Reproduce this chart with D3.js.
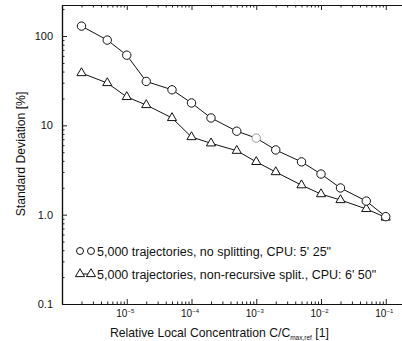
<!DOCTYPE html>
<html>
<head>
<meta charset="utf-8">
<script src="https://cdn.jsdelivr.net/npm/d3@7"></script>
<style>
  body { margin: 0; background: #fff; }
  svg { display: block; font-family: "Liberation Sans", Arial, sans-serif; }
</style>
</head>
<body>
<div id="chart"></div>
<script>
// relative local concentration C/Cmax,ref
const conc = [2e-6, 5e-6, 1e-5, 2e-5, 5e-5, 1e-4, 2e-4, 5e-4, 1e-3, 2e-3, 5e-3, 1e-2, 2e-2, 5e-2, 1e-1];
// standard deviation [%]
const noSplit = [129, 90, 61, 31, 25, 17.8, 12.1, 8.6, 7.2, 5.3, 3.9, 2.85, 1.99, 1.42, 0.95];
const nonRecursive = [38.5, 29.8, 20.8, 16.9, 12.1, 7.4, 6.3, 5.2, 3.9, 3.0, 2.14, 1.7, 1.46, 1.16, 0.93];

const yTicks = [0.1, 1, 10, 100];
const yTickLabels = ["0.1", "1.0", "10", "100"];
const xTicks = [1e-5, 1e-4, 1e-3, 1e-2, 1e-1];
const xTickExp = ["\u22125", "\u22124", "\u22123", "\u22122", "\u22121"];
const legendLabels = [
  "5,000 trajectories, no splitting, CPU: 5' 25\"",
  "5,000 trajectories, non-recursive split., CPU: 6' 50\""
];

const w = 402, h = 341;
const mLeft = 62, mTop = 5, mBottom = 304;

const svg = d3.select("#chart").append("svg")
  .attr("width", w)
  .attr("height", h);

// 10^-6 at the left edge, 64.75px per decade
const x = d3.scaleLog().domain([1e-6, 1]).range([mLeft, mLeft + 6 * 64.75]);
// 100 sits at y=36, 89.33px per decade
const y = d3.scaleLog().domain([0.1, Math.pow(10, 2 + 31 / 89.33)]).range([mBottom, mTop]);

function minors(lo, hi) {
  const out = [];
  for (let e = lo; e < hi; e++) {
    for (let k = 2; k <= 9; k++) out.push(k * Math.pow(10, e));
  }
  return out;
}

// left axis
svg.append("g")
  .attr("transform", "translate(" + mLeft + ",0)")
  .call(d3.axisLeft(y).tickValues(minors(-1, 3).filter(v => v <= y.domain()[1])).tickSize(-2.5).tickSizeOuter(0).tickFormat(""));
const yAxis = svg.append("g")
  .attr("transform", "translate(" + mLeft + ",0)")
  .call(d3.axisLeft(y).tickValues(yTicks).tickSize(-5).tickSizeOuter(0).tickPadding(9)
    .tickFormat((d, i) => yTickLabels[i]));
yAxis.selectAll("text").attr("font-size", 11).attr("fill", "#111");
yAxis.attr("font-family", null);

// bottom axis
svg.append("g")
  .attr("transform", "translate(0," + mBottom + ")")
  .call(d3.axisBottom(x).tickValues(minors(-6, 0)).tickSize(-2.5).tickSizeOuter(0).tickFormat(""));
const xAxis = svg.append("g")
  .attr("transform", "translate(0," + mBottom + ")")
  .call(d3.axisBottom(x).tickValues(xTicks).tickSize(-5).tickSizeOuter(0).tickPadding(6).tickFormat(""));
xAxis.attr("font-family", null);
xAxis.selectAll(".tick text")
  .attr("font-size", 10).attr("fill", "#111")
  .attr("dx", -2)
  .each(function(d, i) {
    const t = d3.select(this);
    t.append("tspan").text("10");
    t.append("tspan").attr("dy", -4).attr("font-size", 6).text(xTickExp[i]);
  });

// top axis
svg.append("g")
  .attr("transform", "translate(0," + mTop + ")")
  .call(d3.axisTop(x).tickValues(minors(-6, 0)).tickSize(-2.5).tickSizeOuter(0).tickFormat(""));
svg.append("g")
  .attr("transform", "translate(0," + mTop + ")")
  .call(d3.axisTop(x).tickValues(xTicks).tickSize(-5).tickSizeOuter(0).tickFormat(""));

svg.selectAll(".domain").attr("stroke", "#111").attr("stroke-width", 1.2);
svg.selectAll(".tick line").attr("stroke", "#222");

// axis titles
svg.append("text")
  .attr("transform", "translate(25,154) rotate(-90)")
  .attr("text-anchor", "middle")
  .attr("font-size", 12.2)
  .attr("fill", "#111")
  .text("Standard Deviation [%]");

const xt = svg.append("text")
  .attr("x", 110)
  .attr("y", 337)
  .attr("font-size", 12.2)
  .attr("fill", "#111");
xt.append("tspan").text("Relative Local Concentration C/C");
xt.append("tspan").attr("dy", 3).attr("font-size", 6.5).text("max,ref");
xt.append("tspan").attr("dy", -3).text(" [1]");

// series
const line = d3.line()
  .x(d => x(d[0]))
  .y(d => y(d[1]));

const circleData = conc.map((c, i) => [c, noSplit[i]]);
const triData = conc.map((c, i) => [c, nonRecursive[i]]);

svg.append("path")
  .datum(triData)
  .attr("d", line)
  .attr("fill", "none")
  .attr("stroke", "#111")
  .attr("stroke-width", 1);
svg.append("path")
  .datum(circleData)
  .attr("d", line)
  .attr("fill", "none")
  .attr("stroke", "#111")
  .attr("stroke-width", 1);

const tri = d3.symbol().type(d3.symbolTriangle).size(36);

svg.selectAll(".tri")
  .data(triData)
  .enter()
  .append("path")
  .attr("class", "tri")
  .attr("d", tri)
  .attr("transform", d => "translate(" + x(d[0]) + "," + y(d[1]) + ")")
  .attr("fill", "#fff")
  .attr("stroke", "#111")
  .attr("stroke-width", 1);

svg.selectAll(".circ")
  .data(circleData)
  .enter()
  .append("circle")
  .attr("class", "circ")
  .attr("cx", d => x(d[0]))
  .attr("cy", d => y(d[1]))
  .attr("r", 4.2)
  .attr("fill", "#fff")
  .attr("stroke", (d, i) => i === 8 ? "#999" : "#111")
  .attr("stroke-width", 1);

// legend
const legend = svg.append("g").attr("font-size", 12.5).attr("fill", "#111");
legend.append("circle").attr("cx", 80).attr("cy", 251).attr("r", 3.5)
  .attr("fill", "none").attr("stroke", "#111");
legend.append("circle").attr("cx", 91).attr("cy", 251).attr("r", 3.5)
  .attr("fill", "none").attr("stroke", "#111");
legend.append("text").attr("x", 97).attr("y", 255.5).text(legendLabels[0]);

legend.append("line").attr("x1", 80).attr("x2", 91).attr("y1", 274).attr("y2", 274)
  .attr("stroke", "#111");
legend.append("path").attr("d", tri)
  .attr("transform", "translate(80,274)").attr("fill", "#fff").attr("stroke", "#111");
legend.append("path").attr("d", tri)
  .attr("transform", "translate(91,274)").attr("fill", "#fff").attr("stroke", "#111");
legend.append("text").attr("x", 97).attr("y", 278.5).text(legendLabels[1]);
</script>
</body>
</html>
